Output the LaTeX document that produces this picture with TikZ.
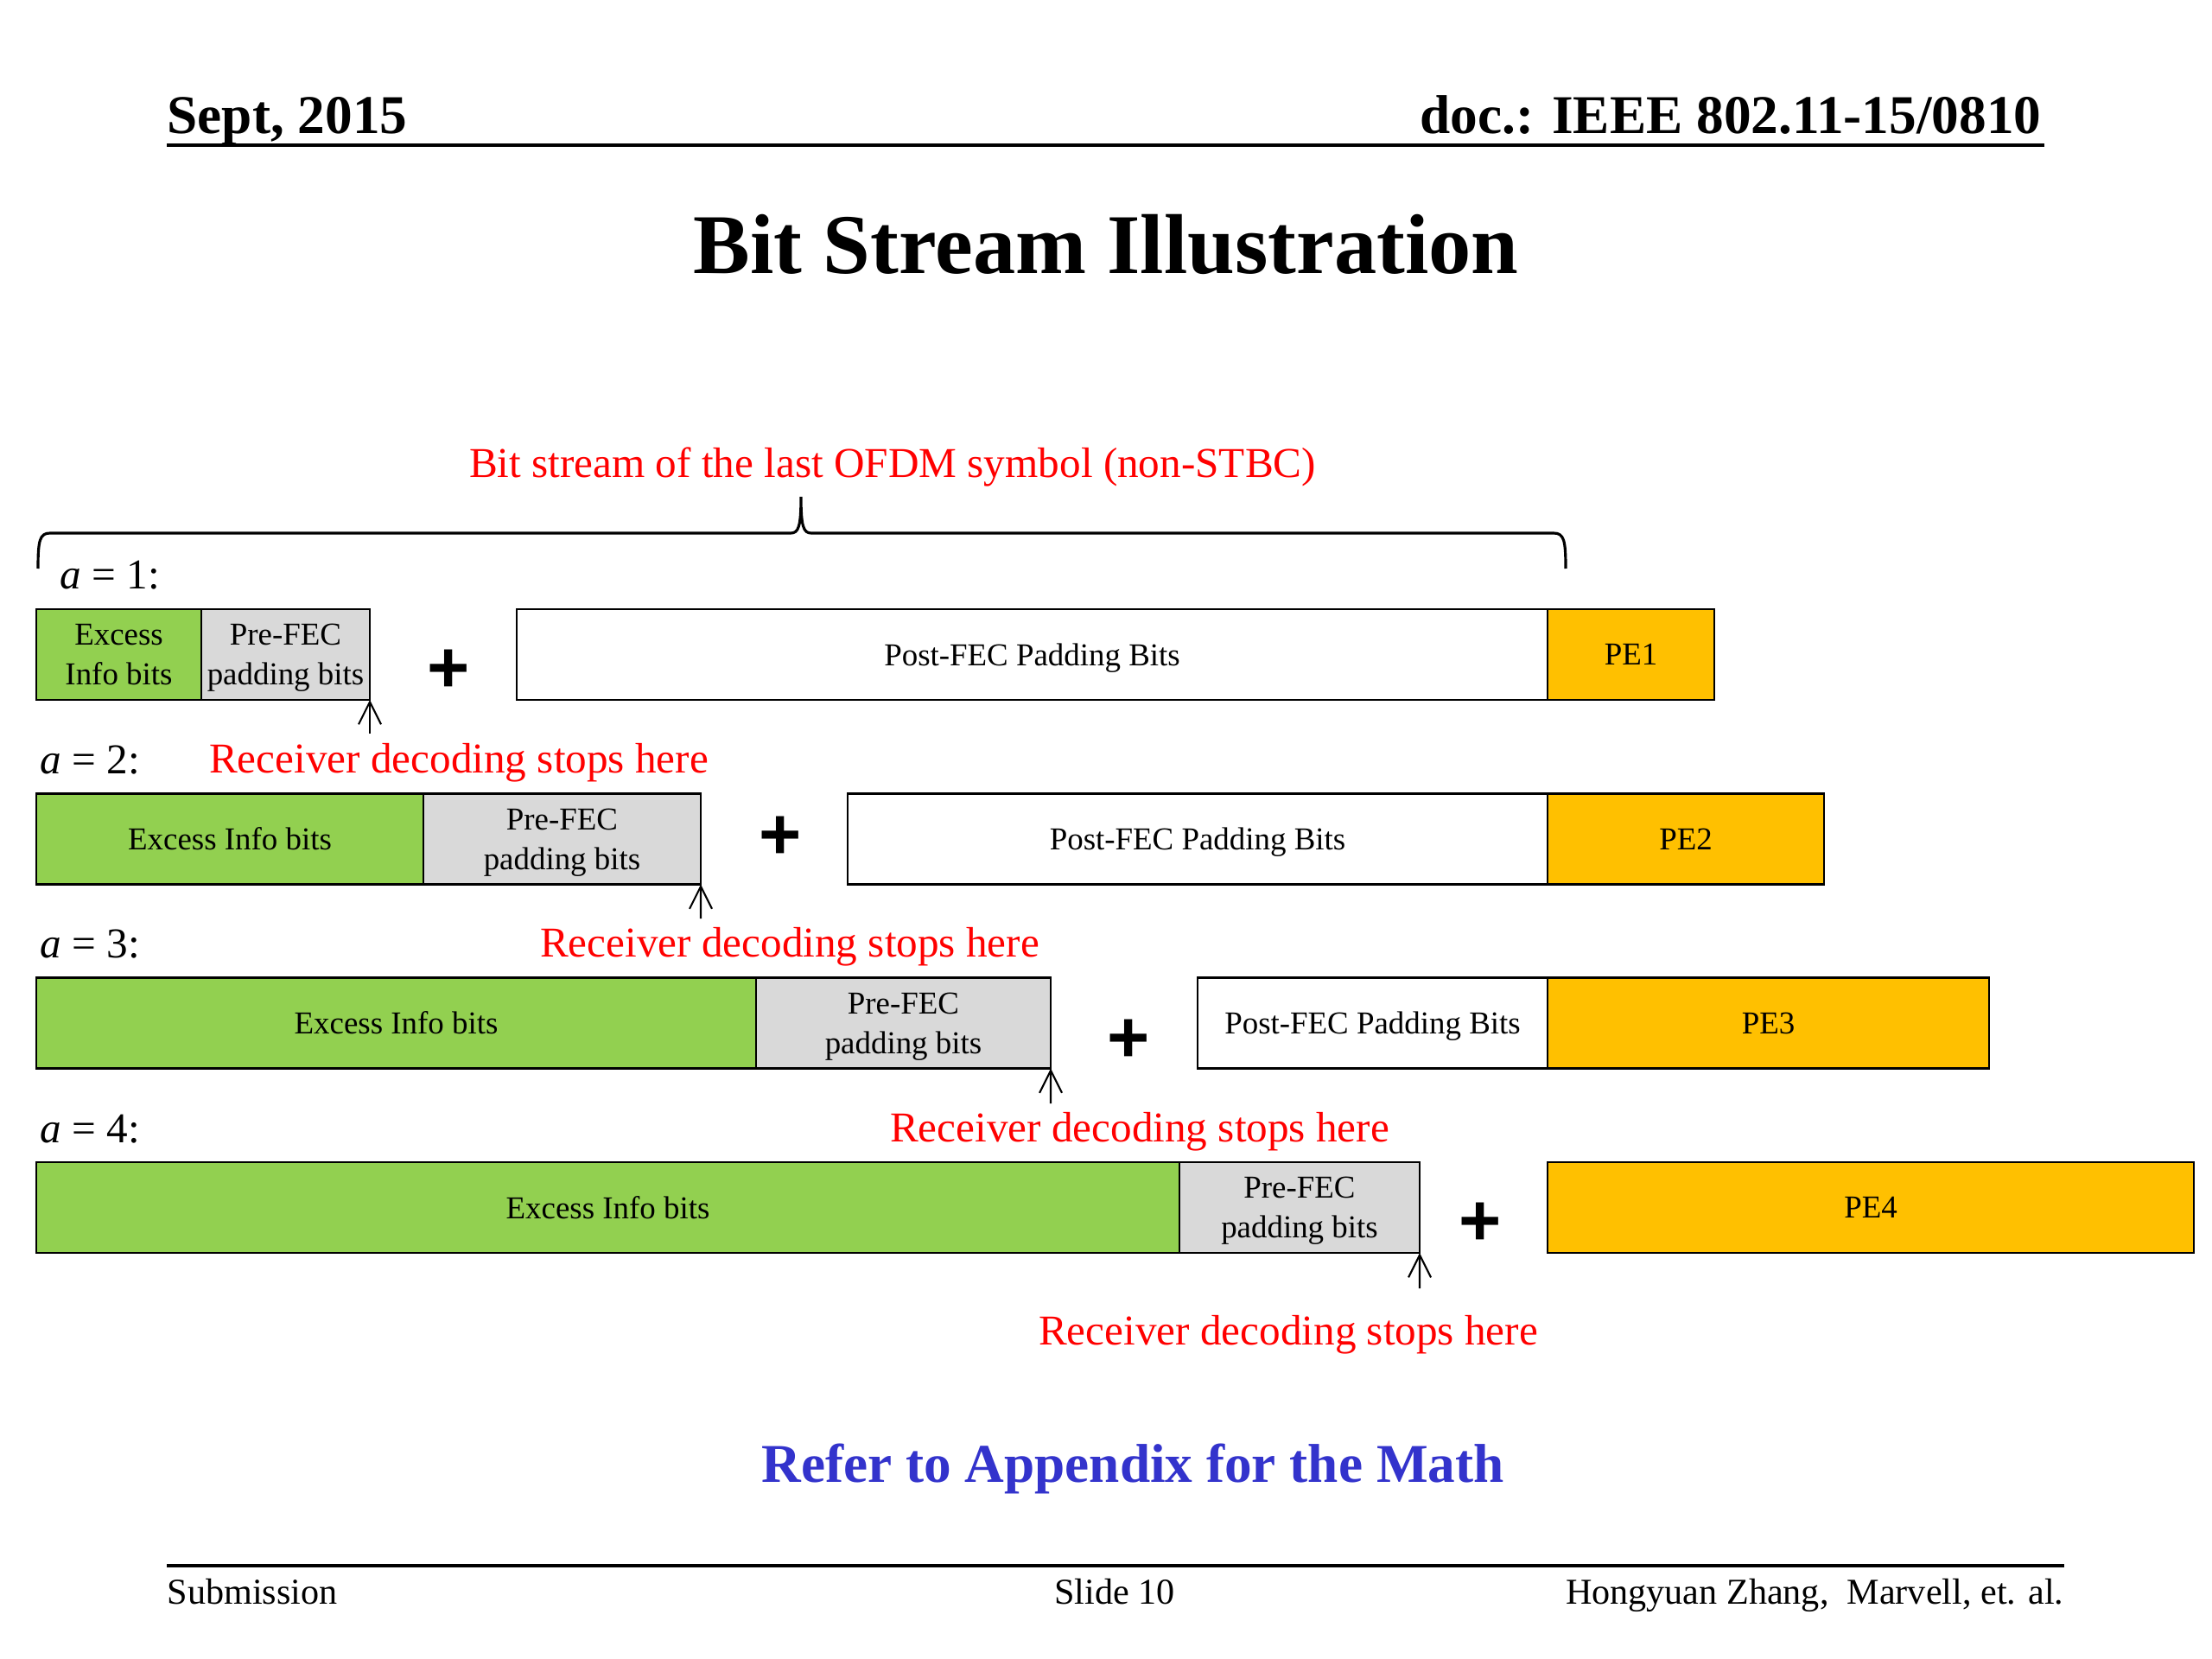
\documentclass[tikz,border=0pt]{standalone}
\usepackage{fontspec}
\setmainfont{Liberation Serif}
\newfontfamily\plusfont{Liberation Sans}
\usepackage{xcolor}
\definecolor{exgreen}{RGB}{146,208,80}
\definecolor{padgray}{RGB}{217,217,217}
\definecolor{peorange}{RGB}{255,192,0}
\definecolor{refblue}{RGB}{51,51,204}
\usetikzlibrary{arrows.meta,positioning}
\tikzset{
  bitbox/.style={rectangle, draw=black, line width=0.8pt, minimum height=1.05cm,
                 inner sep=0pt, outer sep=0pt, align=center, text depth=0pt,
                 font=\fontsize{10.5}{13}\selectfont},
  excessbox/.style={bitbox, fill=exgreen},
  prebox/.style={bitbox, fill=padgray},
  postbox/.style={bitbox, fill=white},
  pebox/.style={bitbox, fill=peorange},
  plussign/.style={font=\plusfont\bfseries\fontsize{24}{24}\selectfont},
  rowlabel/.style={anchor=west, inner sep=0pt, font=\fontsize{14}{16}\selectfont},
  stoplabel/.style={text=red, font=\fontsize{14}{16}\selectfont},
  stoparrow/.style={-{Straight Barb[length=0.26cm,width=0.26cm]}, line width=0.6pt},
  hdr/.style={inner sep=0pt, font=\bfseries\fontsize{18}{20}\selectfont},
  ftr/.style={inner sep=0pt, font=\fontsize{12}{14}\selectfont},
}

\begin{document}
\begin{tikzpicture}
  \useasboundingbox (0,0) rectangle (25.6,-19.2);
  % Header
  \node[hdr, anchor=base west] (date) at (1.93,-1.55) {Sept, 2015};
  \node[hdr, anchor=base east] (doc) at (23.63,-1.55) {doc.: IEEE 802.11-15/0810};
  \draw[line width=1.2pt] (1.93,-1.68) -- (23.66,-1.68);
  \node[font=\bfseries\fontsize{28}{32}\selectfont] (title) at (12.80,-2.83) {Bit Stream Illustration};
  % Brace over the last symbol
  \node[stoplabel] (symlabel) at (10.33,-5.40) {Bit stream of the last OFDM symbol (non-STBC)};
  \draw[line width=0.9pt] (0.44,-6.58) .. controls (0.44,-6.25) and (0.46,-6.17) .. (0.58,-6.17)
    -- (9.15,-6.17) .. controls (9.24,-6.17) and (9.27,-6.10) .. (9.27,-5.75)
    .. controls (9.27,-6.10) and (9.30,-6.17) .. (9.39,-6.17)
    -- (17.98,-6.17) .. controls (18.10,-6.17) and (18.12,-6.25) .. (18.12,-6.58);
  % Row 1
  \node[rowlabel] (a1) at (0.69,-6.66) {\textit{a} = 1:};
  \node[excessbox, minimum width=1.91cm, anchor=west] (ex1) at (0.42,-7.575) {Excess\\Info bits};
  \node[prebox, minimum width=1.95cm, right=0pt of ex1] (pre1) {Pre-FEC\\padding bits};
  \node[plussign] (plus1) at (5.19,-7.77) {+};
  \node[postbox, minimum width=11.93cm, anchor=west] (post1) at (5.98,-7.575) {Post-FEC Padding Bits};
  \node[pebox, minimum width=1.93cm, right=0pt of post1] (pe1) {PE1};
  \coordinate (s1) at (4.28,-8.49);
  \draw[stoparrow] (s1) -- (pre1.south east);
  \node[stoplabel] (stop1) at (5.31,-8.83) {Receiver decoding stops here};
  % Row 2
  \node[rowlabel] (a2) at (0.46,-8.80) {\textit{a} = 2:};
  \node[excessbox, minimum width=4.48cm, anchor=west] (ex2) at (0.42,-9.71) {Excess Info bits};
  \node[prebox, minimum width=3.21cm, right=0pt of ex2] (pre2) {Pre-FEC\\padding bits};
  \node[plussign] (plus2) at (9.03,-9.70) {+};
  \node[postbox, minimum width=8.10cm, anchor=west] (post2) at (9.81,-9.71) {Post-FEC Padding Bits};
  \node[pebox, minimum width=3.20cm, right=0pt of post2] (pe2) {PE2};
  \coordinate (s2) at (8.11,-10.63);
  \draw[stoparrow] (s2) -- (pre2.south east);
  \node[stoplabel] (stop2) at (9.14,-10.96) {Receiver decoding stops here};
  % Row 3
  \node[rowlabel] (a3) at (0.46,-10.93) {\textit{a} = 3:};
  \node[excessbox, minimum width=8.33cm, anchor=west] (ex3) at (0.42,-11.84) {Excess Info bits};
  \node[prebox, minimum width=3.41cm, right=0pt of ex3] (pre3) {Pre-FEC\\padding bits};
  \node[plussign] (plus3) at (13.06,-12.05) {+};
  \node[postbox, minimum width=4.05cm, anchor=west] (post3) at (13.86,-11.84) {Post-FEC Padding Bits};
  \node[pebox, minimum width=5.11cm, right=0pt of post3] (pe3) {PE3};
  \coordinate (s3) at (12.16,-12.77);
  \draw[stoparrow] (s3) -- (pre3.south east);
  \node[stoplabel] (stop3) at (13.19,-13.10) {Receiver decoding stops here};
  % Row 4
  \node[rowlabel] (a4) at (0.46,-13.07) {\textit{a} = 4:};
  \node[excessbox, minimum width=13.23cm, anchor=west] (ex4) at (0.42,-13.975) {Excess Info bits};
  \node[prebox, minimum width=2.78cm, right=0pt of ex4] (pre4) {Pre-FEC\\padding bits};
  \node[plussign] (plus4) at (17.13,-14.17) {+};
  \node[pebox, minimum width=7.48cm, anchor=west] (pe4) at (17.91,-13.975) {PE4};
  \coordinate (s4) at (16.43,-14.91);
  \draw[stoparrow] (s4) -- (pre4.south east);
  \node[stoplabel] (stop4) at (14.91,-15.45) {Receiver decoding stops here};
  % Note and footer
  \node[font=\bfseries\fontsize{18}{20}\selectfont, text=refblue] (appx) at (13.11,-17.00) {Refer to Appendix for the Math};
  \draw[line width=1.2pt] (1.93,-18.12) -- (23.89,-18.12);
  \node[ftr, anchor=base west] (subm) at (1.93,-18.56) {Submission};
  \node[ftr, anchor=base] (slide) at (12.90,-18.56) {Slide 10};
  \node[ftr, anchor=base east] (auth) at (23.89,-18.56) {Hongyuan Zhang,\ \ Marvell, et. al.};
\end{tikzpicture}
\end{document}
